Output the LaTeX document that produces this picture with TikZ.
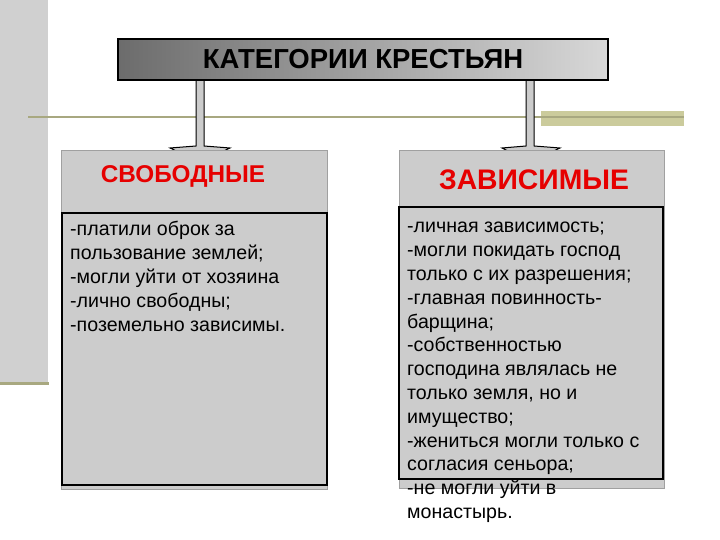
\documentclass[tikz,border=0pt]{standalone}
\usepackage{fontspec}
\setmainfont{Liberation Sans}
\definecolor{barGray}{HTML}{D0D0D0}
\definecolor{boxGray}{HTML}{CCCCCC}
\definecolor{olive}{HTML}{A8A880}
\definecolor{oliveLight}{HTML}{CBCB9C}
\definecolor{hdRed}{HTML}{E60000}
\begin{document}
\begin{tikzpicture}[x=1pt,y=-1pt,
  outerbox/.style={draw={rgb,255:red,160;green,160;blue,160},line width=1pt,fill=boxGray},
  innerbox/.style={draw=black,line width=1.8pt},
  bodytext/.style={anchor=north west,inner sep=0pt,align=left,font=\fontsize{19.6}{23.8}\selectfont},
  headtext/.style={text=hdRed,font=\bfseries,inner sep=0pt},
  blockarrow/.style={draw=black,line width=1pt,fill=boxGray}]
\useasboundingbox (0,0) rectangle (720,540);
% left decorative bar
\fill[barGray] (0,0) rectangle (48,382);
\fill[olive] (0,382) rectangle (49,385);
% horizontal rule
\fill[oliveLight] (541,111) rectangle (684,126);
\draw[olive,line width=1.6pt] (28,117) -- (684,117);
% arrows
\draw[blockarrow] (196,78) -- (204,78) -- (204,146) -- (230,148) -- (200,162) -- (170,148) -- (196,146) -- cycle;
\draw[blockarrow] (526,78) -- (534,78) -- (534,146) -- (560,148) -- (530,162) -- (502,148) -- (526,146) -- cycle;
% title
\node[draw=black,line width=1.8pt,left color={rgb,255:red,108;green,108;blue,108},right color={rgb,255:red,216;green,216;blue,216},
  minimum width=490pt,minimum height=41pt,inner sep=0pt,font=\bfseries\fontsize{27.5}{30}\selectfont] (title) at (363,59.5) {КАТЕГОРИИ КРЕСТЬЯН};
% left box
\draw[outerbox] (61,151) rectangle (327,489);
\draw[innerbox] (62,213) rectangle (327,485);
\node[headtext,font=\bfseries\fontsize{24.3}{28}\selectfont] (free) at (183,176) {СВОБОДНЫЕ};
\node[bodytext] (freetext) at (70,219) {\strut-платили оброк за\\пользование землей;\\-могли уйти от хозяина\\-лично свободны;\\-поземельно зависимы.};
% right box
\draw[outerbox] (399,151) rectangle (664,488);
\draw[innerbox] (399,207) rectangle (663,479);
\node[headtext,font=\bfseries\fontsize{28.3}{32}\selectfont] (dep) at (534,180) {ЗАВИСИМЫЕ};
\node[bodytext] (deptext) at (407,216) {\strut-личная зависимость;\\-могли покидать господ\\только с их разрешения;\\-главная повинность-\\барщина;\\-собственностью\\господина являлась не\\только земля, но и\\имущество;\\-жениться могли только с\\согласия сеньора;\\-не могли уйти в\\монастырь.};
\end{tikzpicture}
\end{document}
